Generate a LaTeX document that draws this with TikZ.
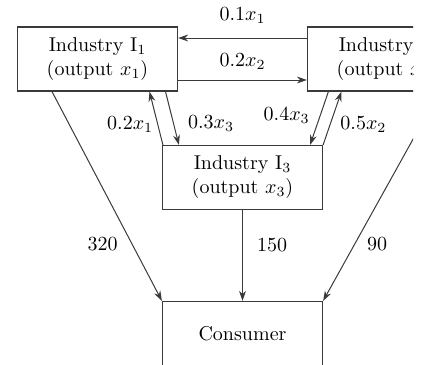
\documentclass[tikz,border=0pt]{standalone}
\usepackage{xcolor}
\usetikzlibrary{positioning,arrows.meta}
\definecolor{ioGray}{HTML}{3A3A3A}
\definecolor{ioWhite}{HTML}{FFFFFF}
\tikzset{
  io-box/.style={
    draw=ioGray, line width=0.6pt, fill=ioWhite, align=center,
    inner sep=2pt, minimum width=80pt, minimum height=32pt
  },
  io-flow/.style={-{Stealth[length=5pt,width=3.4pt]}, line width=0.5pt, draw=ioGray},
  io-label/.style={font=\normalsize, text=black, inner sep=1pt}
}
\begin{document}
\begin{tikzpicture}[x=0.5pt,y=-0.5pt]
\useasboundingbox (0,0) rectangle (426,364);
\clip (0,0) rectangle (413,364);

\node[io-box] (ind1) at (97.5,59) {Industry I$_1$\\(output $x_1$)};
\node[io-box] (ind2) at (387.5,59) {Industry I$_2$\\(output $x_2$)};
\node[io-box] (ind3) at (242.5,177.5) {Industry I$_3$\\(output $x_3$)};
\node[io-box] (cons) at (242.5,333.5) {Consumer};

\draw[io-flow] ([yshift=10.5pt]ind2.west) -- node[io-label,above=6pt]{$0.1x_1$}
  ([yshift=10.5pt]ind1.east);
\draw[io-flow] ([yshift=-10.5pt]ind1.east) -- node[io-label,above=4pt]{$0.2x_2$}
  ([yshift=-10.5pt]ind2.west);

\draw[io-flow] ([xshift=0.5pt]ind3.north west) -- node[io-label,pos=0.39,left=1pt]{$0.2x_1$}
  ([xshift=26pt]ind1.south);
\draw[io-flow] ([xshift=34pt]ind1.south) -- node[io-label,pos=0.6,right=6pt]{$0.3x_3$}
  ([xshift=8.5pt]ind3.north west);

\draw[io-flow] ([xshift=10.75pt]ind2.south west) -- node[io-label,pos=0.45,left=4pt]{$0.4x_3$}
  ([xshift=-6.5pt]ind3.north east);
\draw[io-flow] (ind3.north east) -- node[io-label,pos=0.375,right=4pt]{$0.5x_2$}
  ([xshift=17.25pt]ind2.south west);

\draw[io-flow] ([xshift=-22.75pt]ind1.south) -- node[io-label,pos=0.73,left=6pt]{320}
  (cons.north west);
\draw[io-flow] (ind3.south) -- node[io-label,pos=0.38,right=6pt]{150} (cons.north);
\draw[io-flow] ([xshift=26pt]ind2.south) -- node[io-label,pos=0.73,right=5pt]{90}
  (cons.north east);
\end{tikzpicture}
\end{document}
